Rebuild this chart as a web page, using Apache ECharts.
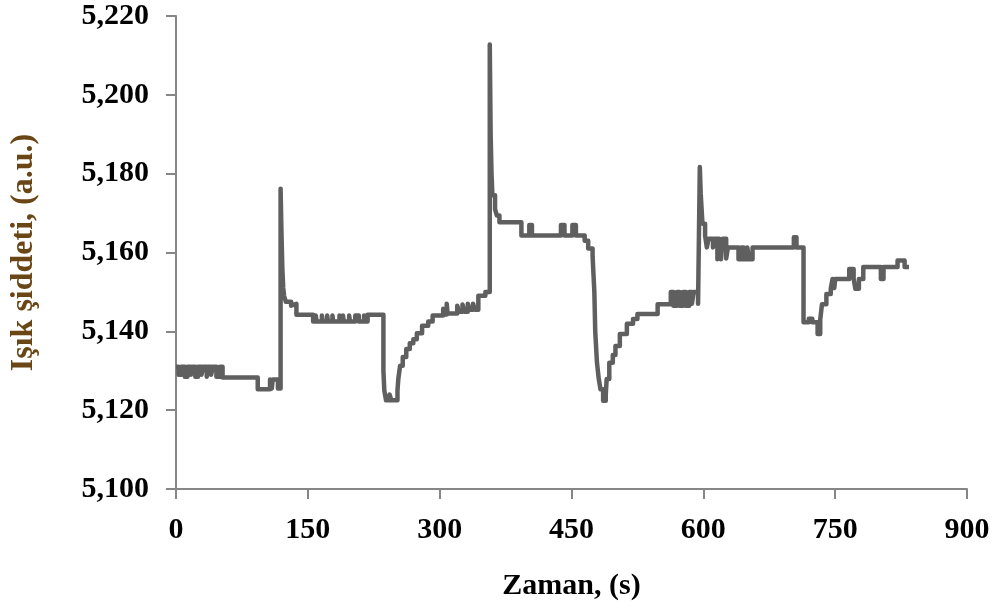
<!DOCTYPE html>
<html>
<head>
<meta charset="utf-8">
<script src="https://cdn.jsdelivr.net/npm/echarts@6/dist/echarts.min.js"></script>
<style>
  html, body { margin: 0; padding: 0; background: #fff; }
  #chart { width: 1001px; height: 614px; }
</style>
</head>
<body>
<div id="chart"></div>
<script>
// [time (s), intensity (a.u.)] — each value holds until the next reading
const baseline = [
  [0, 5131], [3, 5129], [6, 5131], [10, 5128.5], [13, 5131], [17, 5129], [19, 5131], [22, 5128.5], [25, 5131],
  [29, 5129], [31, 5131], [35, 5128.5], [37, 5131], [40, 5129], [42, 5131], [46, 5128.5], [50, 5131], [53, 5128.3],
  [93, 5125.3], [107, 5127.8], [109, 5125.5], [110, 5127.8], [116, 5125.5]
];
const pulse1 = [
  [119, 5176.2], [120, 5165], [121, 5156], [122, 5151], [123, 5149], [125, 5147.5], [131, 5146.5], [132, 5147],
  [137, 5144.2], [156, 5142.5], [159, 5144], [160, 5142.5], [166, 5144], [167, 5142.5], [172, 5144], [173, 5142.5],
  [178, 5144], [179, 5142.5], [186, 5144], [187, 5142.5], [190, 5144], [191, 5142.5], [197, 5144], [198, 5142.5],
  [204, 5144], [208, 5142.5], [214, 5144], [215, 5142.5], [218, 5144.2]
];
const recovery1 = [
  [236, 5130], [237, 5125], [239, 5122.5], [243, 5124], [245, 5122.5], [252, 5125], [253, 5128], [255, 5131.3],
  [258, 5133.5], [262, 5135.5], [266, 5137], [270, 5138], [274, 5139.5], [280, 5141.4], [287, 5142.5], [292, 5144],
  [304, 5145.7], [305, 5144.3], [308, 5147], [309, 5144.5], [320, 5146.5], [322, 5145], [326, 5146.8], [328, 5145],
  [332, 5147], [334, 5145.5], [338, 5147], [340, 5145.5], [344, 5149], [352, 5150]
];
const pulse2 = [
  [357, 5212.8], [358, 5190], [359, 5180], [360, 5174.5], [363, 5171], [365, 5169.4], [368, 5167.7], [393, 5164.3],
  [402, 5167], [405, 5164.3], [438, 5167], [442, 5164.3], [451, 5167], [455, 5164.3], [465, 5163], [469, 5161],
  [474, 5159], [476, 5150], [477, 5140], [479, 5132], [481, 5128], [483, 5125.3], [486, 5122.4], [489, 5124],
  [490, 5127.9], [493, 5132], [497, 5134], [500, 5136.3], [505, 5139.3], [513, 5141.9], [520, 5143.1],
  [525, 5144.4], [548, 5146.9], [563, 5150], [566, 5146.5], [570, 5150], [573, 5146.5], [577, 5150], [580, 5146.5],
  [584, 5150], [587, 5147], [589, 5150], [594, 5147]
];
const pulse3 = [
  [596, 5181.7], [597, 5175], [599, 5167.3], [602, 5164.3], [604, 5161.3], [606, 5163.5], [611, 5161.3],
  [613, 5163.5], [616, 5158.3], [618, 5163.5], [620, 5158.3], [622, 5163.5], [626, 5158.5], [628, 5161.3],
  [640, 5158.3], [643, 5161.3], [646, 5158.3], [650, 5161.3], [652, 5158.3], [656, 5161.3], [703, 5163.9],
  [706, 5161.3]
];
const recovery3 = [
  [714, 5142.3], [720, 5143.2], [724, 5142.3], [730, 5139.3], [733, 5143], [735, 5146.9], [740, 5149.5],
  [745, 5150.8], [747, 5153.3], [749, 5151], [750, 5153.3], [766, 5155.8], [771, 5153.3], [773, 5150.8],
  [777, 5153.3], [782, 5156.3], [802, 5153.3], [805, 5156.3], [821, 5158], [829, 5156.3], [834, 5156.3]
];
const xTicks = { min: 0, max: 900, interval: 150 };
const yTicks = { min: 5100, max: 5220, interval: 20 };

const chart = echarts.init(document.getElementById('chart'));
const font = 'Liberation Serif';

chart.setOption({
  animation: false,
  grid: { left: 175.5, right: 34, top: 16, bottom: 125, containLabel: false },
  xAxis: {
    type: 'value',
    min: xTicks.min,
    max: xTicks.max,
    interval: xTicks.interval,
    name: 'Zaman, (s)',
    nameLocation: 'middle',
    nameGap: 82,
    nameTextStyle: { fontFamily: font, fontWeight: 'bold', fontSize: 30, color: '#000' },
    axisLine: { lineStyle: { color: '#868686', width: 2 } },
    axisTick: { length: 10, lineStyle: { color: '#868686', width: 2 } },
    axisLabel: { fontFamily: font, fontWeight: 'bold', fontSize: 30, color: '#000', margin: 26 },
    splitLine: { show: false }
  },
  yAxis: {
    type: 'value',
    min: yTicks.min,
    max: yTicks.max,
    interval: yTicks.interval,
    name: 'Işık şiddeti, (a.u.)',
    nameLocation: 'middle',
    nameGap: 136,
    nameTextStyle: { fontFamily: font, fontWeight: 'bold', fontSize: 32, color: '#6a4516' },
    axisLine: { show: true, lineStyle: { color: '#868686', width: 2 } },
    axisTick: { show: true, length: 10, lineStyle: { color: '#868686', width: 2 } },
    axisLabel: {
      fontFamily: font, fontWeight: 'bold', fontSize: 30, color: '#000', margin: 27,
      formatter: v => v.toLocaleString('en-US')
    },
    splitLine: { show: false }
  },
  series: [{
    type: 'line',
    step: 'end',
    data: [].concat(baseline, pulse1, recovery1, pulse2, pulse3, recovery3),
    showSymbol: false,
    lineStyle: { color: '#5f5f5f', width: 4.5, join: 'round' }
  }]
});
</script>
</body>
</html>
